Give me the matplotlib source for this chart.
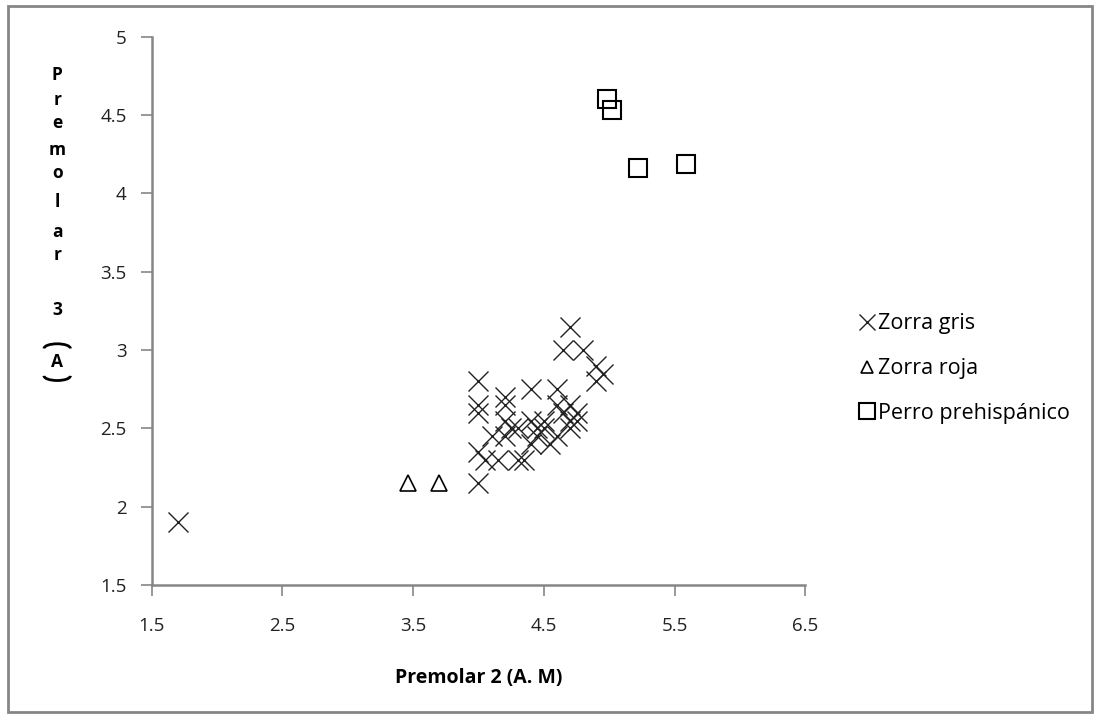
import matplotlib
matplotlib.use('Agg')
import matplotlib.pyplot as plt
from matplotlib.patches import Rectangle, Arc

# Zorra gris
zg_x = [1.7, 4.7, 4.65, 4.8, 4.9, 4.95, 4.9, 4.0, 4.0, 4.0, 4.0, 4.0,
        4.2, 4.2, 4.2, 4.1, 4.15, 4.05, 4.4, 4.4, 4.3, 4.35, 4.45, 4.25,
        4.6, 4.6, 4.7, 4.75, 4.6, 4.5, 4.7, 4.65, 4.55, 4.5, 4.4, 4.3,
        4.75, 4.7, 4.45, 4.2]
zg_y = [1.9, 3.15, 3.0, 3.0, 2.9, 2.85, 2.8, 2.8, 2.65, 2.6, 2.35, 2.15,
        2.7, 2.65, 2.55, 2.45, 2.3, 2.3, 2.75, 2.55, 2.5, 2.3, 2.45, 2.5,
        2.75, 2.65, 2.55, 2.55, 2.45, 2.55, 2.65, 2.6, 2.4, 2.5, 2.4, 2.3,
        2.6, 2.5, 2.5, 2.45]
# Zorra roja
zr_x = [3.46, 3.7]
zr_y = [2.15, 2.15]
# Perro prehispanico
pp_x = [4.98, 5.02, 5.22, 5.59]
pp_y = [4.6, 4.53, 4.16, 4.19]

x_ticks = [1.5, 2.5, 3.5, 4.5, 5.5, 6.5]
y_ticks = [1.5, 2, 2.5, 3, 3.5, 4, 4.5, 5]
ylabel_chars = ['P', 'r', 'e', 'm', 'o', 'l', 'a', 'r', '3', 'A']

plt.rcParams['font.family'] = ['Open Sans', 'DejaVu Sans']
gray = '#868686'

fig = plt.figure(figsize=(11, 7.2), dpi=100)
fig.patches.append(Rectangle((0.007, 0.011), 0.986, 0.981, transform=fig.transFigure,
                             fill=False, edgecolor=gray, linewidth=2))
ax = fig.add_axes([0.138, 0.1875, 0.594, 0.7615])

ax.plot(zg_x, zg_y, linestyle='none', marker='x', markersize=15,
        markeredgewidth=1.0, color='#222222', label='Zorra gris')
ax.plot(zr_x, zr_y, linestyle='none', marker='^', markersize=11,
        markerfacecolor='none', markeredgewidth=1.2, color='black', label='Zorra roja')
ax.plot(pp_x, pp_y, linestyle='none', marker='s', markersize=13,
        markerfacecolor='none', markeredgewidth=1.5, color='black', label='Perro prehispánico')

ax.set_xlim(1.5, 6.5)
ax.set_ylim(1.5, 5)
ax.set_xticks(x_ticks)
ax.set_xticklabels([f'{v:g}' for v in x_ticks])
ax.set_yticks(y_ticks)
ax.set_yticklabels([f'{v:g}' for v in y_ticks])
for s in ['top', 'right']:
    ax.spines[s].set_visible(False)
for s in ['left', 'bottom']:
    ax.spines[s].set_color(gray)
    ax.spines[s].set_linewidth(1.8)
ax.tick_params(axis='both', direction='out', length=8, width=1.2, color=gray,
               labelsize=13.5, labelcolor='#222222')
ax.tick_params(axis='x', pad=15)
ax.tick_params(axis='y', pad=10)

ax.set_xlabel('Premolar 2 (A. M)', fontsize=14, fontweight='bold', labelpad=24)

# stacked y-axis label, the brackets drawn as turned arcs
ys = [0.896, 0.861, 0.829, 0.792, 0.760, 0.720, 0.678, 0.646, 0.569, 0.497]
for ch, yy in zip(ylabel_chars, ys):
    fig.text(0.052, yy, ch, ha='center', va='center', fontsize=12.5, fontweight='bold')
fig.patches.append(Arc((0.052, 0.516), 0.024, 0.013, theta1=0, theta2=180,
                       transform=fig.transFigure, color='black', linewidth=2))
fig.patches.append(Arc((0.052, 0.478), 0.024, 0.013, theta1=180, theta2=360,
                       transform=fig.transFigure, color='black', linewidth=2))

leg = ax.legend(loc='center left', bbox_to_anchor=(0.771, 0.488), bbox_transform=fig.transFigure,
                frameon=False, fontsize=15.5, handletextpad=0.1, labelspacing=1.1,
                handlelength=0.8, borderpad=0)
for h, ms in zip(leg.legend_handles, [11, 9, 11]):
    h.set_markersize(ms)

fig.savefig('out.png', dpi=100)
